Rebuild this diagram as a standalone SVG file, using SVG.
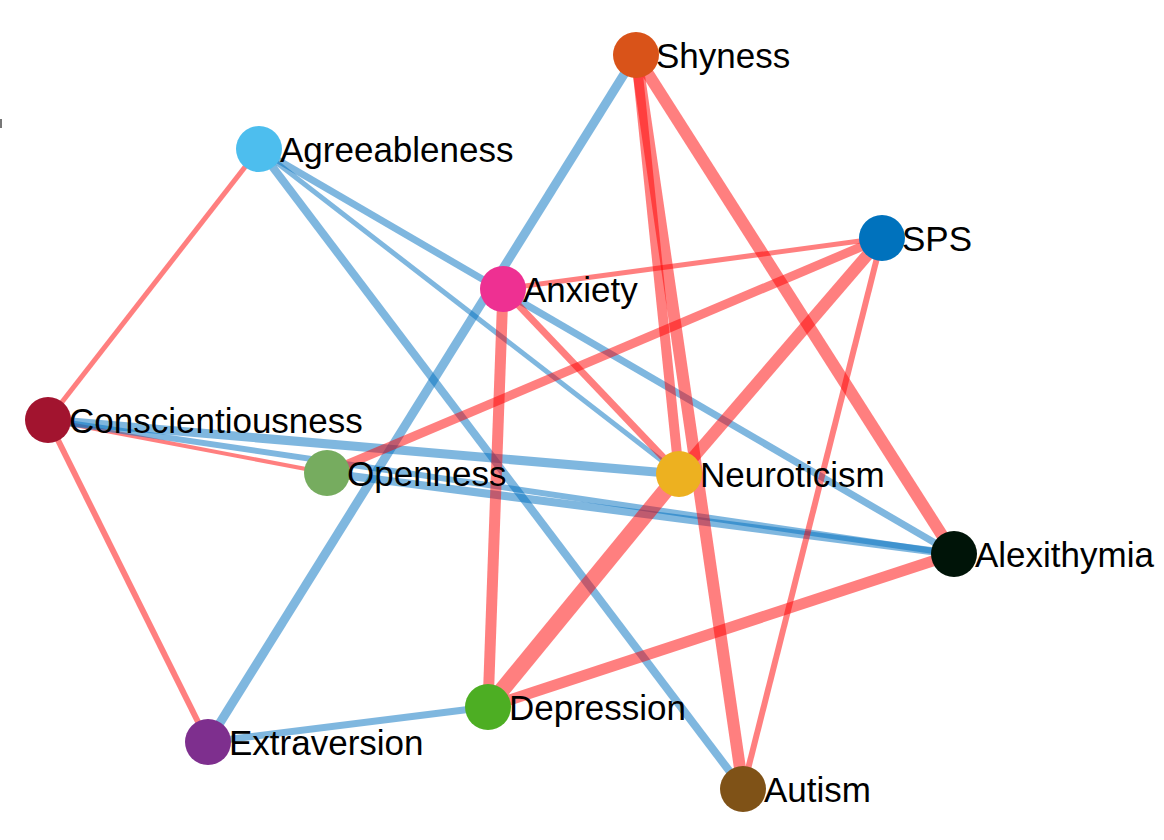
<svg xmlns="http://www.w3.org/2000/svg" width="1164" height="840" viewBox="0 0 1164 840">
<style>
.pos{stroke:#ff0000;stroke-opacity:0.5;fill:none;stroke-linecap:butt}
.neg{stroke:#0070c0;stroke-opacity:0.5;fill:none;stroke-linecap:butt}
.lbl{font-family:"Liberation Sans",Arial,sans-serif;font-size:35px;fill:#000}
</style>
<rect width="1164" height="840" fill="#fff"/>
<rect x="0" y="119" width="2" height="9" fill="#777"/>
<g id="edges">
<line class="pos" x1="259" y1="149" x2="48" y2="420" stroke-width="5"/>
<line class="pos" x1="48" y1="420" x2="208" y2="742" stroke-width="6"/>
<line class="pos" x1="48" y1="420" x2="327" y2="473" stroke-width="4"/>
<line class="neg" x1="48" y1="420" x2="679" y2="474" stroke-width="9"/>
<line class="neg" x1="48" y1="420" x2="954" y2="554" stroke-width="6"/>
<line class="neg" x1="327" y1="473" x2="954" y2="554" stroke-width="8"/>
<line class="neg" x1="259" y1="149" x2="954" y2="554" stroke-width="7"/>
<line class="neg" x1="259" y1="149" x2="679" y2="474" stroke-width="5"/>
<line class="neg" x1="259" y1="149" x2="743" y2="789" stroke-width="8"/>
<line class="neg" x1="636" y1="55" x2="208" y2="742" stroke-width="9"/>
<line class="neg" x1="208" y1="742" x2="488" y2="707" stroke-width="7"/>
<line class="pos" x1="327" y1="473" x2="882" y2="238" stroke-width="9"/>
<line class="pos" x1="503" y1="289" x2="882" y2="238" stroke-width="5"/>
<line class="pos" x1="503" y1="289" x2="679" y2="474" stroke-width="7"/>
<line class="pos" x1="503" y1="289" x2="488" y2="707" stroke-width="11"/>
<line class="pos" x1="636" y1="55" x2="679" y2="474" stroke-width="10"/>
<line class="pos" x1="636" y1="55" x2="743" y2="789" stroke-width="12"/>
<line class="pos" x1="636" y1="55" x2="954" y2="554" stroke-width="12"/>
<line class="pos" x1="882" y1="238" x2="679" y2="474" stroke-width="12"/>
<line class="pos" x1="679" y1="474" x2="488" y2="707" stroke-width="16"/>
<line class="pos" x1="882" y1="238" x2="743" y2="789" stroke-width="6"/>
<line class="pos" x1="954" y1="554" x2="488" y2="707" stroke-width="11"/>
</g>
<g id="node-shyness"><circle cx="636" cy="55" r="23" fill="#d95319"/><text class="lbl" x="656" y="68">Shyness</text></g>
<g id="node-agreeableness"><circle cx="259" cy="149" r="23" fill="#4dbeee"/><text class="lbl" x="280" y="162">Agreeableness</text></g>
<g id="node-sps"><circle cx="882" cy="238" r="23" fill="#0072bd"/><text class="lbl" x="902" y="251">SPS</text></g>
<g id="node-anxiety"><circle cx="503" cy="289" r="23" fill="#ee3092"/><text class="lbl" x="523" y="302">Anxiety</text></g>
<g id="node-conscientiousness"><circle cx="48" cy="420" r="23" fill="#a2142f"/><text class="lbl" x="69" y="433">Conscientiousness</text></g>
<g id="node-openness"><circle cx="327" cy="473" r="23" fill="#76ac5f"/><text class="lbl" x="347" y="486">Openness</text></g>
<g id="node-neuroticism"><circle cx="679" cy="474" r="23" fill="#edb120"/><text class="lbl" x="700" y="487">Neuroticism</text></g>
<g id="node-alexithymia"><circle cx="954" cy="554" r="23" fill="#001408"/><text class="lbl" x="975" y="567">Alexithymia</text></g>
<g id="node-depression"><circle cx="488" cy="707" r="23" fill="#4dae23"/><text class="lbl" x="509" y="720">Depression</text></g>
<g id="node-extraversion"><circle cx="208" cy="742" r="23" fill="#7e2f8e"/><text class="lbl" x="229" y="755">Extraversion</text></g>
<g id="node-autism"><circle cx="743" cy="789" r="23" fill="#7f5217"/><text class="lbl" x="764" y="802">Autism</text></g>
</svg>
